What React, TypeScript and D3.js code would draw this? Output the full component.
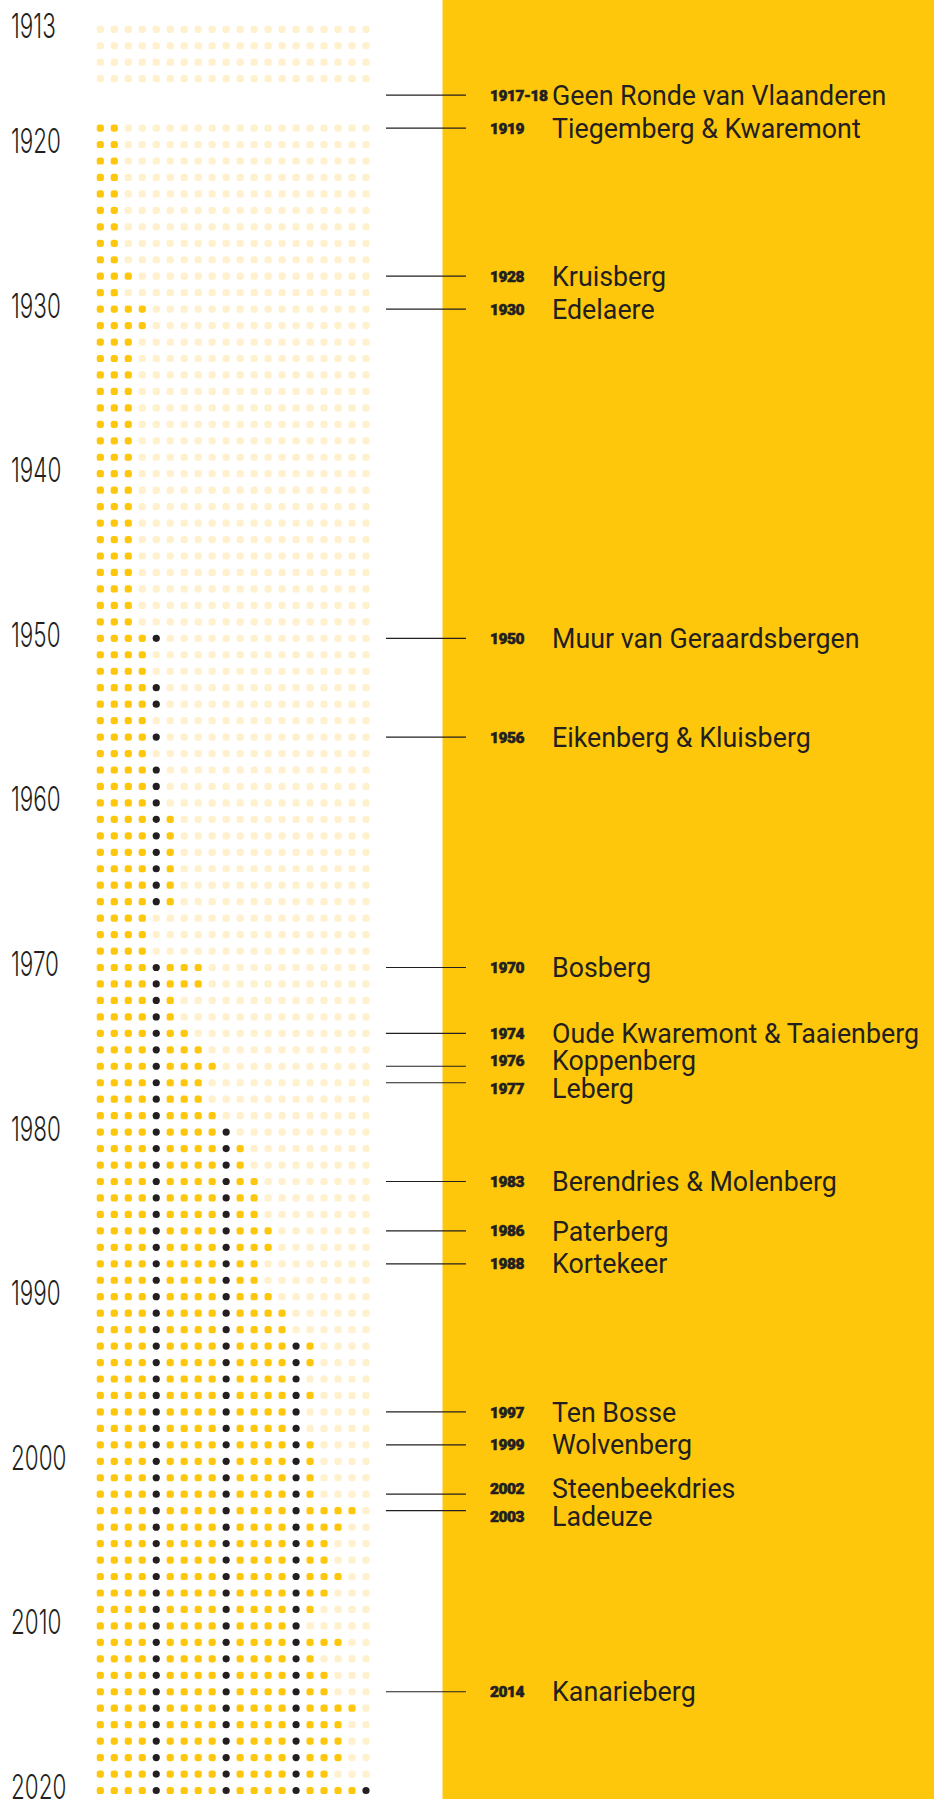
import React from 'react';
import * as d3 from 'd3';

// rows: 1913-1916 (no climbs yet), no race in 1917-18, then 1919-2020
const years = [...d3.range(1913, 1917), ...d3.range(1919, 2021)];

// number of climbs per edition, same order as years
const climbCounts = [
  0, 0, 0, 0,
  2, 2, 2, 2, 2, 2, 2, 2, 2, 3, 2,            // 1919-1929
  4, 4, 3, 3, 3, 3, 3, 3, 3, 3,               // 1930-1939
  3, 3, 3, 3, 3, 3, 3, 3, 3, 3,               // 1940-1949
  5, 4, 4, 5, 5, 4, 5, 4, 5, 5,               // 1950-1959
  5, 6, 6, 6, 6, 6, 6, 4, 4, 4,               // 1960-1969
  8, 8, 6, 6, 7, 8, 9, 8, 8, 9,               // 1970-1979
  10, 11, 11, 12, 12, 12, 13, 13, 12, 12,     // 1980-1989
  13, 14, 14, 16, 16, 15, 16, 15, 15, 16,     // 1990-1999
  16, 16, 16, 19, 18, 17, 17, 18, 17, 16,     // 2000-2009
  15, 18, 16, 17, 17, 19, 18, 18, 18, 17,     // 2010-2019
  20                                          // 2020
];

const tickYears = [1913, 1920, 1930, 1940, 1950, 1960, 1970, 1980, 1990, 2000, 2010, 2020];

const noteRows = [1917, 1919, 1928, 1930, 1950, 1956, 1970, 1974, 1976, 1977, 1983, 1986, 1988, 1997, 1999, 2002, 2003, 2014];
const noteYears = ['1917-18', '1919', '1928', '1930', '1950', '1956', '1970', '1974', '1976', '1977', '1983', '1986', '1988', '1997', '1999', '2002', '2003', '2014'];
const noteNames = [
  'Geen Ronde van Vlaanderen',
  'Tiegemberg & Kwaremont',
  'Kruisberg',
  'Edelaere',
  'Muur van Geraardsbergen',
  'Eikenberg & Kluisberg',
  'Bosberg',
  'Oude Kwaremont & Taaienberg',
  'Koppenberg',
  'Leberg',
  'Berendries & Molenberg',
  'Paterberg',
  'Kortekeer',
  'Ten Bosse',
  'Wolvenberg',
  'Steenbeekdries',
  'Ladeuze',
  'Kanarieberg'
];

const COLS = 20;
const YELLOW = '#FEC70B';
const LIGHT = '#FFF1CE';
const DARK = '#231F20';

export default function App() {
  const width = 934;
  const height = 1799;

  const rowY = d3.scaleLinear().domain([1913, 2020]).range([29.3, 1790.5]);
  const colX = d3.scaleLinear().domain([0, COLS - 1]).range([100.3, 366]);
  const dot = 7.2;

  // push annotation texts apart when rows are too close
  const minGap = 27.5;
  const notes = noteRows.map((row, i) => ({
    row,
    label: noteYears[i],
    name: noteNames[i],
    ty: rowY(row)
  }));
  for (let iter = 0; iter < 20; iter++) {
    for (let i = 1; i < notes.length; i++) {
      const gap = notes[i].ty - notes[i - 1].ty;
      if (gap < minGap) {
        const d = (minGap - gap) / 2;
        notes[i - 1].ty -= d;
        notes[i].ty += d;
      }
    }
  }

  return (
    <svg
      width={width}
      height={height}
      style={{ position: 'absolute', left: 0, top: 0, display: 'block' }}
    >
      <rect x={0} y={0} width={width} height={height} fill="#fff" />
      <rect x={442.5} y={0} width={width - 442.5} height={height} fill={YELLOW} />

      {/* dot grid */}
      <g>
        {years.map((year, i) => (
          d3.range(COLS).map(c => {
            const filled = c < climbCounts[i];
            const fill = !filled ? LIGHT : (c + 1) % 5 === 0 ? DARK : YELLOW;
            return (
              <rect
                key={`${year}-${c}`}
                x={colX(c) - dot / 2}
                y={rowY(year) - dot / 2}
                width={dot}
                height={dot}
                rx={filled && (c + 1) % 5 === 0 ? dot / 2 : 2.6}
                fill={fill}
              />
            );
          })
        ))}
      </g>

      {/* year axis */}
      <g fontFamily="Inter, Roboto, sans-serif" fontWeight={300} fontSize={34} fill={DARK}>
        {tickYears.map(y => (
          <text key={y} transform={`translate(11, ${rowY(y) + 8.5}) scale(0.66, 1)`}>
            {y}
          </text>
        ))}
      </g>

      {/* annotations */}
      <g>
        {notes.map(n => (
          <g key={n.label}>
            <line x1={386} x2={466} y1={rowY(n.row)} y2={rowY(n.row)} stroke={DARK} strokeWidth={1.2} />
            <text
              x={490}
              y={n.ty}
              dy="0.36em"
              fontFamily="Roboto, sans-serif"
              fontWeight={900}
              fontSize={15.5}
              letterSpacing={-0.5}
              fill={DARK}
              stroke={DARK}
              strokeWidth={0.6}
            >
              {n.label}
            </text>
            <text
              x={552}
              y={n.ty}
              dy="0.36em"
              fontFamily="Roboto, sans-serif"
              fontWeight={400}
              fontSize={26.8}
              fill={DARK}
            >
              {n.name}
            </text>
          </g>
        ))}
      </g>
    </svg>
  );
}
